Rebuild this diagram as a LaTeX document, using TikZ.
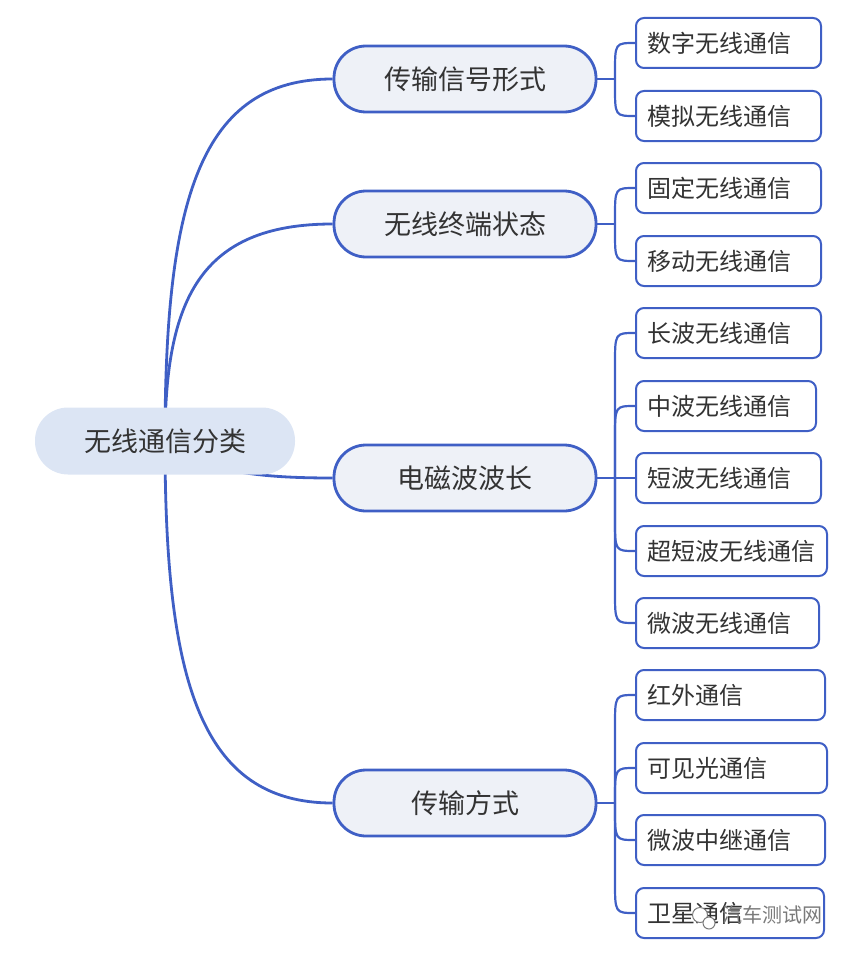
\documentclass[tikz,border=0pt]{standalone}
\usepackage{fontspec}
\setmainfont{Noto Sans CJK SC}
\usetikzlibrary{backgrounds,calc}
\definecolor{lineblue}{HTML}{3F5FC5}
\definecolor{rootfill}{HTML}{DCE5F4}
\definecolor{branchfill}{HTML}{EEF1F7}
\definecolor{txt}{HTML}{333333}
\definecolor{wm}{HTML}{7A7A7A}
\tikzset{
  rootbox/.style={fill=rootfill, draw=none, rounded corners=33pt, minimum width=260pt, minimum height=67pt, inner sep=0pt, text=txt, font=\fontsize{27}{32}\selectfont},
  branchbox/.style={fill=branchfill, draw=lineblue, line width=2.8pt, rounded corners=32pt, minimum width=262pt, minimum height=66pt, inner sep=0pt, text=txt, font=\fontsize{27}{32}\selectfont},
  leafbox/.style={fill=white, draw=lineblue, line width=2pt, rounded corners=8pt, minimum height=50pt, anchor=west, inner xsep=11pt, inner ysep=0pt, align=left, text=txt, font=\fontsize{24}{28}\selectfont},
  conn/.style={draw=lineblue, line width=2.8pt},
  fork/.style={draw=lineblue, line width=2.2pt},
  bendto/.style={to path={-- ($(\tikztostart |- \tikztotarget)+(0,#1)$) .. controls (\tikztostart |- \tikztotarget) .. (\tikztotarget)}},
}
\begin{document}
\begin{tikzpicture}[x=1pt,y=-1pt]
\useasboundingbox (0,0) rectangle (853,955);
% root and branches
\node[rootbox] (root) at (165,441) {无线通信分类};
\node[branchbox] (b1) at (465,79) {传输信号形式};
\node[branchbox] (b2) at (465,224) {无线终端状态};
\node[branchbox] (b3) at (465,478) {电磁波波长};
\node[branchbox] (b4) at (465,803) {传输方式};
% leaves
\node[leafbox, text width=163pt] (l1) at (635,43) {数字无线通信};
\node[leafbox, text width=163pt] (l2) at (635,116) {模拟无线通信};
\node[leafbox, text width=163pt] (l3) at (635,188) {固定无线通信};
\node[leafbox, text width=163pt] (l4) at (635,261) {移动无线通信};
\node[leafbox, text width=163pt] (l5) at (635,333) {长波无线通信};
\node[leafbox, text width=158pt] (l6) at (635,406) {中波无线通信};
\node[leafbox, text width=163pt] (l7) at (635,478) {短波无线通信};
\node[leafbox, text width=169pt] (l8) at (635,551) {超短波无线通信};
\node[leafbox, text width=161pt] (l9) at (635,623) {微波无线通信};
\node[leafbox, text width=167pt] (l10) at (635,695) {红外通信};
\node[leafbox, text width=169pt] (l11) at (635,768) {可见光通信};
\node[leafbox, text width=167pt] (l12) at (635,840) {微波中继通信};
\node[leafbox, text width=166pt] (l13) at (635,913) {卫星通信};
% fork junctions
\coordinate (j1) at (615,79);
\coordinate (j2) at (615,224);
\coordinate (j3) at (615,478);
\coordinate (j4) at (615,803);
\begin{scope}[on background layer]
  \draw[conn] (root.center) .. controls (165,200) and (200,79) .. (b1.west);
  \draw[conn] (root.center) .. controls (165,300) and (200,224) .. (b2.west);
  \draw[conn] (root.center) .. controls (200,472) and (260,478) .. (b3.west);
  \draw[conn] (root.center) .. controls (165,680) and (200,803) .. (b4.west);
  \draw[fork] (b1.east) -- (j1);
  \draw[fork] (b2.east) -- (j2);
  \draw[fork] (b3.east) -- (j3);
  \draw[fork] (b4.east) -- (j4);
  \draw[fork] (j1) to[bendto=30] (l1.west);
  \draw[fork] (j1) to[bendto=-30] (l2.west);
  \draw[fork] (j2) to[bendto=30] (l3.west);
  \draw[fork] (j2) to[bendto=-30] (l4.west);
  \draw[fork] (j3) to[bendto=32] (l5.west);
  \draw[fork] (j3) to[bendto=32] (l6.west);
  \draw[fork] (j3) -- (l7.west);
  \draw[fork] (j3) to[bendto=-32] (l8.west);
  \draw[fork] (j3) to[bendto=-32] (l9.west);
  \draw[fork] (j4) to[bendto=32] (l10.west);
  \draw[fork] (j4) to[bendto=32] (l11.west);
  \draw[fork] (j4) to[bendto=-32] (l12.west);
  \draw[fork] (j4) to[bendto=-32] (l13.west);
\end{scope}
% watermark
\node[circle, fill=white, draw=wm, line width=1pt, minimum size=15pt, inner sep=0pt] (wi1) at (700,915) {};
\node[circle, fill=white, draw=wm, line width=1pt, minimum size=12pt, inner sep=0pt] (wi2) at (709,923) {};
\node[anchor=west, text=wm, inner sep=0pt, font=\fontsize{20}{24}\selectfont] (wmt) at (722,915) {汽车测试网};
\end{tikzpicture}
\end{document}
